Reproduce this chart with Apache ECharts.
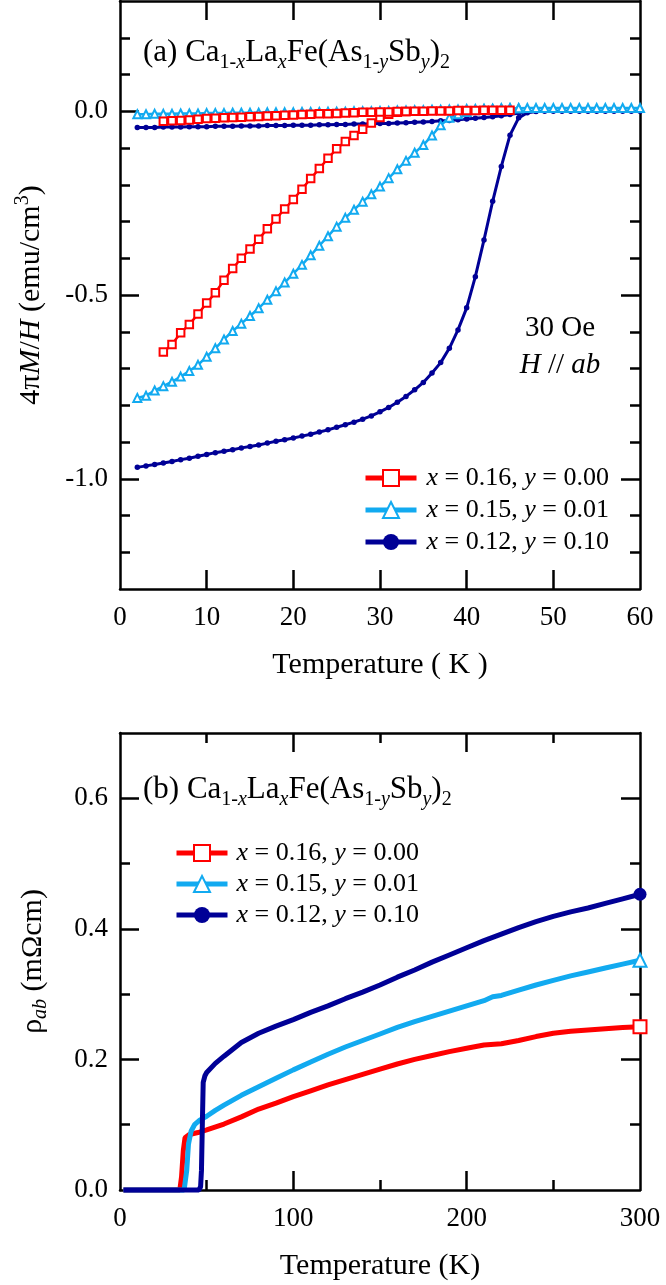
<!DOCTYPE html>
<html><head><meta charset="utf-8">
<script src="https://cdn.jsdelivr.net/npm/echarts@6/dist/echarts.min.js"></script>
<style>html,body{margin:0;padding:0;background:#fff}#c{width:666px;height:1285px}</style>
</head><body><div id="c"></div>
<script>
// ---------- data ----------
const seriesNames = ['x = 0.16, y = 0.00', 'x = 0.15, y = 0.01', 'x = 0.12, y = 0.10'];

// panel (a): 4πM/H vs T  (ZFC and FC branches)
const redZfc = [[5,-0.655],[6,-0.635],[7,-0.603],[8,-0.580],[9,-0.552],[10,-0.522],[11,-0.494],[12,-0.460],[13,-0.428],[14,-0.400],[15,-0.375],[16,-0.348],[17,-0.320],[18,-0.293],[19,-0.266],[20,-0.240],[21,-0.212],[22,-0.183],[23,-0.156],[24,-0.128],[25,-0.102],[26,-0.082],[27,-0.066],[28,-0.049],[29,-0.032],[30,-0.017],[31,-0.008],[32,-0.003],[33,-0.001]];
const redFc = [[5,-0.027],[6,-0.026],[7,-0.025],[8,-0.024],[9,-0.022],[10,-0.020],[11,-0.019],[12,-0.018],[13,-0.017],[14,-0.016],[15,-0.015],[16,-0.014],[17,-0.013],[18,-0.012],[19,-0.011],[20,-0.010],[21,-0.009],[22,-0.008],[23,-0.007],[24,-0.007],[25,-0.006],[26,-0.005],[27,-0.004],[28,-0.003],[29,-0.003],[30,-0.002],[31,-0.002],[32,-0.001],[33,-0.001],[34,0.000],[35,0.000],[36,0.001],[37,0.001],[38,0.001],[39,0.002],[40,0.002],[41,0.002],[42,0.003],[43,0.003],[44,0.003],[45,0.003]];
const blueZfc = [[2,-0.780],[3,-0.774],[4,-0.760],[5,-0.748],[6,-0.736],[7,-0.722],[8,-0.707],[9,-0.690],[10,-0.668],[11,-0.645],[12,-0.621],[13,-0.598],[14,-0.578],[15,-0.557],[16,-0.536],[17,-0.513],[18,-0.490],[19,-0.466],[20,-0.442],[21,-0.418],[22,-0.392],[23,-0.366],[24,-0.340],[25,-0.314],[26,-0.290],[27,-0.268],[28,-0.246],[29,-0.226],[30,-0.205],[31,-0.182],[32,-0.158],[33,-0.135],[34,-0.113],[35,-0.092],[36,-0.066],[37,-0.038],[38,-0.018],[39,-0.008],[40,-0.002],[41,0.003],[42,0.005],[43,0.006],[44,0.007],[45,0.008],[46,0.008]];
const blueFc = [[2,-0.008],[3,-0.008],[4,-0.007],[5,-0.007],[6,-0.007],[7,-0.006],[8,-0.006],[9,-0.006],[10,-0.005],[11,-0.005],[12,-0.005],[13,-0.004],[14,-0.004],[15,-0.004],[16,-0.004],[17,-0.003],[18,-0.003],[19,-0.003],[20,-0.003],[21,-0.002],[22,-0.002],[23,-0.002],[24,-0.001],[25,-0.001],[26,-0.001],[27,0.000],[28,0.000],[29,0.000],[30,0.001],[31,0.001],[32,0.002],[33,0.002],[34,0.003],[35,0.003],[36,0.004],[37,0.004],[38,0.005],[39,0.005],[40,0.006],[41,0.006],[42,0.007],[43,0.007],[44,0.008],[45,0.008],[46,0.008],[47,0.009],[48,0.009],[49,0.009],[50,0.009],[51,0.009],[52,0.009],[53,0.009],[54,0.009],[55,0.009],[56,0.009],[57,0.009],[58,0.009],[59,0.009],[60,0.009]];
const navyZfc = [[2,-0.969],[3,-0.965],[4,-0.961],[5,-0.957],[6,-0.953],[7,-0.948],[8,-0.944],[9,-0.939],[10,-0.934],[11,-0.929],[12,-0.925],[13,-0.921],[14,-0.916],[15,-0.912],[16,-0.908],[17,-0.903],[18,-0.898],[19,-0.894],[20,-0.889],[21,-0.884],[22,-0.879],[23,-0.873],[24,-0.867],[25,-0.860],[26,-0.853],[27,-0.846],[28,-0.838],[29,-0.829],[30,-0.818],[31,-0.806],[32,-0.792],[33,-0.776],[34,-0.758],[35,-0.738],[36,-0.712],[37,-0.684],[38,-0.645],[39,-0.595],[40,-0.535],[41,-0.450],[42,-0.350],[43,-0.245],[44,-0.150],[45,-0.065],[46,-0.018],[47,-0.004],[48,-0.001],[49,0.000],[50,0.000],[51,0.000],[52,0.000],[53,0.000],[54,0.000],[55,0.000],[56,0.000],[57,0.000],[58,0.000],[59,0.000],[60,0.000]];
const navyFc = [[2,-0.044],[3,-0.044],[4,-0.044],[5,-0.043],[6,-0.043],[7,-0.043],[8,-0.042],[9,-0.042],[10,-0.042],[11,-0.041],[12,-0.041],[13,-0.041],[14,-0.040],[15,-0.040],[16,-0.040],[17,-0.039],[18,-0.039],[19,-0.039],[20,-0.038],[21,-0.038],[22,-0.038],[23,-0.037],[24,-0.037],[25,-0.036],[26,-0.036],[27,-0.035],[28,-0.035],[29,-0.034],[30,-0.033],[31,-0.033],[32,-0.032],[33,-0.031],[34,-0.030],[35,-0.029],[36,-0.028],[37,-0.026],[38,-0.025],[39,-0.023],[40,-0.021],[41,-0.019],[42,-0.017],[43,-0.015],[44,-0.012],[45,-0.009],[46,-0.005],[47,-0.002],[48,0.000]];

// panel (b): rho_ab vs T
const redRho = [[2,0],[10,0],[20,0],[30,0],[34.5,0],[35.5,0.02],[36.5,0.06],[37.5,0.08],[40,0.085],[45,0.088],[50,0.092],[60,0.101],[70,0.112],[80,0.124],[90,0.133],[100,0.143],[110,0.152],[120,0.161],[130,0.169],[140,0.177],[150,0.185],[160,0.193],[170,0.200],[180,0.206],[190,0.212],[200,0.217],[210,0.222],[220,0.224],[230,0.229],[240,0.235],[250,0.240],[260,0.243],[270,0.245],[280,0.247],[290,0.249],[300,0.250]];
const blueRho = [[2,0],[10,0],[20,0],[30,0],[37,0],[38.5,0.03],[39.5,0.07],[41,0.09],[43,0.100],[46,0.107],[50,0.113],[55,0.122],[60,0.130],[70,0.145],[80,0.158],[90,0.171],[100,0.184],[110,0.196],[120,0.208],[130,0.219],[140,0.229],[150,0.239],[160,0.249],[170,0.258],[180,0.266],[190,0.274],[200,0.282],[210,0.290],[215,0.296],[220,0.298],[230,0.306],[240,0.314],[250,0.321],[260,0.328],[270,0.334],[280,0.340],[290,0.346],[300,0.352]];
const navyRho = [[2,0],[10,0],[20,0],[30,0],[40,0],[45.5,0],[46.5,0.005],[47,0.03],[47.5,0.10],[48,0.165],[49,0.175],[50,0.180],[55,0.194],[60,0.205],[70,0.226],[80,0.240],[90,0.251],[100,0.261],[110,0.272],[120,0.282],[130,0.293],[140,0.303],[150,0.314],[160,0.326],[170,0.337],[180,0.349],[190,0.360],[200,0.371],[210,0.382],[220,0.392],[230,0.402],[240,0.411],[250,0.419],[260,0.426],[270,0.432],[280,0.439],[290,0.446],[300,0.453]];

// ticks / labels
const topXLabels = [0,10,20,30,40,50,60];
const topXTicks = [10,20,30,40,50];
const topYLabels = [-1.0,-0.5,0.0];
const topYMajor = [-1.0,-0.5,0.0];
const topYMinor = [-1.2,-1.1,-0.9,-0.8,-0.7,-0.6,-0.4,-0.3,-0.2,-0.1,0.1,0.2];
const botXLabels = [0,100,200,300];
const botXMajor = [100,200];
const botXMinor = [50,150,250];
const botYLabels = [0,0.2,0.4,0.6];
const botYMajor = [0.2,0.4,0.6];
const botYMinor = [0.1,0.3,0.5];

// ---------- styling ----------
const F = 'Liberation Serif';
const C = ['#ff0000', '#12aaf0', '#000096'];
const SYM = ['emptyRect', 'emptyTriangle', 'circle'];
const LW = 2.5, MAJ = 19, MIN = 10;

function xAx(grid, pos, min, max, ticks, len, opts) {
  return Object.assign({
    type: 'value', gridIndex: grid, position: pos, min: min, max: max,
    axisLine: { show: true, onZero: false, lineStyle: { color: '#000', width: LW } },
    axisTick: { show: true, inside: true, length: len, customValues: ticks, lineStyle: { color: '#000', width: LW } },
    axisLabel: { show: false },
    splitLine: { show: false }
  }, opts || {});
}
const labelStyle = { fontFamily: F, fontSize: 27, color: '#000' };
const nameRich = {
  n: { fontFamily: F, fontSize: 30, color: '#000', lineHeight: 36 },
  i: { fontFamily: F, fontSize: 30, color: '#000', fontStyle: 'italic', lineHeight: 36 },
  sup: { fontFamily: F, fontSize: 20, color: '#000', lineHeight: 20, verticalAlign: 'top' },
  sub: { fontFamily: F, fontSize: 20, color: '#000', lineHeight: 20, verticalAlign: 'bottom', fontStyle: 'italic' }
};
const xNameStyle = { fontFamily: F, fontSize: 30, color: '#000' };

const xAxis = [
  xAx(0, 'bottom', 0, 60, topXTicks, MAJ, {
    interval: 10,
    axisLabel: Object.assign({ show: true, margin: 15, customValues: topXLabels }, labelStyle),
    name: 'Temperature ( K )', nameLocation: 'middle', nameGap: 61, nameTextStyle: xNameStyle
  }),
  xAx(0, 'top', 0, 60, topXTicks, MAJ),
  xAx(1, 'bottom', 0, 300, botXMajor, MAJ, {
    axisLabel: Object.assign({ show: true, margin: 15, customValues: botXLabels }, labelStyle),
    name: 'Temperature (K)', nameLocation: 'middle', nameGap: 61, nameTextStyle: xNameStyle
  }),
  xAx(1, 'bottom', 0, 300, botXMinor, MIN, { axisLine: { show: false, onZero: false } }),
  xAx(1, 'top', 0, 300, botXMajor, MAJ),
  xAx(1, 'top', 0, 300, botXMinor, MIN, { axisLine: { show: false, onZero: false } })
];
const fmt1 = v => Number(v).toFixed(1);
const yAxis = [
  xAx(0, 'left', -1.3, 0.3, topYMajor, MAJ, {
    axisLabel: Object.assign({ show: true, margin: 12, customValues: topYLabels, formatter: fmt1 }, labelStyle),
    name: '{n|4π}{i|M}{n|/}{i|H}{n| (emu/cm}{sup|3}{n|)}', nameLocation: 'middle', nameGap: 71,
    nameTextStyle: { rich: nameRich }
  }),
  xAx(0, 'left', -1.3, 0.3, topYMinor, MIN, { axisLine: { show: false, onZero: false } }),
  xAx(0, 'right', -1.3, 0.3, topYMajor, MAJ),
  xAx(0, 'right', -1.3, 0.3, topYMinor, MIN, { axisLine: { show: false, onZero: false } }),
  xAx(1, 'left', 0, 0.7, botYMajor, MAJ, {
    axisLabel: Object.assign({ show: true, margin: 12, customValues: botYLabels, formatter: fmt1 }, labelStyle),
    name: '{n|ρ}{sub|ab}{n| (mΩcm)}', nameLocation: 'middle', nameGap: 69,
    nameTextStyle: { rich: nameRich }
  }),
  xAx(1, 'left', 0, 0.7, botYMinor, MIN, { axisLine: { show: false, onZero: false } }),
  xAx(1, 'right', 0, 0.7, botYMajor, MAJ),
  xAx(1, 'right', 0, 0.7, botYMinor, MIN, { axisLine: { show: false, onZero: false } })
];

function topSeries(k, data, size, lw, z) {
  return {
    type: 'line', name: seriesNames[k], xAxisIndex: 0, yAxisIndex: 0, data: data,
    symbol: SYM[k], symbolSize: size, showAllSymbol: true,
    itemStyle: { color: C[k], borderWidth: k === 2 ? 0 : 1.4 },
    lineStyle: { color: C[k], width: lw }, emphasis: { disabled: true }, z: z
  };
}
function botSeries(k, data) {
  const last = data.length - 1;
  return {
    type: 'line', name: seriesNames[k], xAxisIndex: 2, yAxisIndex: 4, data: data,
    symbol: SYM[k], symbolSize: (v, p) => (p.dataIndex === last ? 13 : 0), showAllSymbol: true,
    itemStyle: { color: C[k], borderWidth: 1.4 }, clip: false,
    lineStyle: { color: C[k], width: 5 }, emphasis: { disabled: true }, z: 2 + k
  };
}

const series = [
  topSeries(0, redZfc, 7.5, 2.5, 4), topSeries(1, blueZfc, 8, 2.5, 3), topSeries(2, navyZfc, 5.5, 3, 2),
  topSeries(0, redFc, 7.5, 2.5, 4), topSeries(1, blueFc, 8, 2.5, 3), topSeries(2, navyFc, 5.5, 3, 2),
  botSeries(0, redRho), botSeries(1, blueRho), botSeries(2, navyRho)
];

const legendFmt = name => '{sp|}' + name.replace(/x/, '{i|x}').replace(/y/, '{i|y}');
function legend(left, top, gap, spw) {
  return {
    data: seriesNames, orient: 'vertical', left: left, top: top, itemWidth: 51, itemHeight: 20, itemGap: gap,
    selectedMode: false, lineStyle: { width: 5 },
    textStyle: { fontFamily: F, fontSize: 26, color: '#000', lineHeight: 28, rich: {
      sp: { width: spw },
      i: { fontFamily: F, fontSize: 26, fontStyle: 'italic', color: '#000', lineHeight: 28 }
    } },
    formatter: legendFmt
  };
}

const titleRich = {
  n: { fontFamily: F, fontSize: 31, fill: '#000', lineHeight: 40 },
  s: { fontFamily: F, fontSize: 20, fill: '#000', lineHeight: 20, verticalAlign: 'bottom' },
  si: { fontFamily: F, fontSize: 20, fill: '#000', lineHeight: 20, verticalAlign: 'bottom', fontStyle: 'italic' },
  i: { fontFamily: F, fontSize: 29, fill: '#000', lineHeight: 34, fontStyle: 'italic' },
  m: { fontFamily: F, fontSize: 29, fill: '#000', lineHeight: 34 }
};
const formula = lab => `{n|(${lab}) Ca}{s|1-}{si|x}{n|La}{si|x}{n|Fe(As}{s|1-}{si|y}{n|Sb}{si|y}{n|)}{s|2}`;
function txt(x, y, text, align) {
  return { type: 'text', x: x, y: y, z: 100, silent: true,
    style: { text: text, rich: titleRich, fill: '#000', fontFamily: F, fontSize: 29, textAlign: align || 'left', textVerticalAlign: 'middle' } };
}

const option = {
  animation: false,
  backgroundColor: '#fff',
  grid: [
    { left: 120, top: 1, width: 520, height: 588 },
    { left: 120, top: 733, width: 520, height: 457 }
  ],
  xAxis: xAxis, yAxis: yAxis, series: series,
  legend: [legend(358, 459, 4, 5), legend(169, 834, 3, 4)],
  graphic: [
    txt(143, 53, formula('a')),
    txt(143, 790, formula('b')),
    txt(560, 328, '{m|30 Oe}', 'center'),
    txt(560, 365, '{i|H}{m| // }{i|ab}', 'center')
  ]
};
const chart = echarts.init(document.getElementById('c'), null, { renderer: 'canvas' });
chart.setOption(option);
</script></body></html>
